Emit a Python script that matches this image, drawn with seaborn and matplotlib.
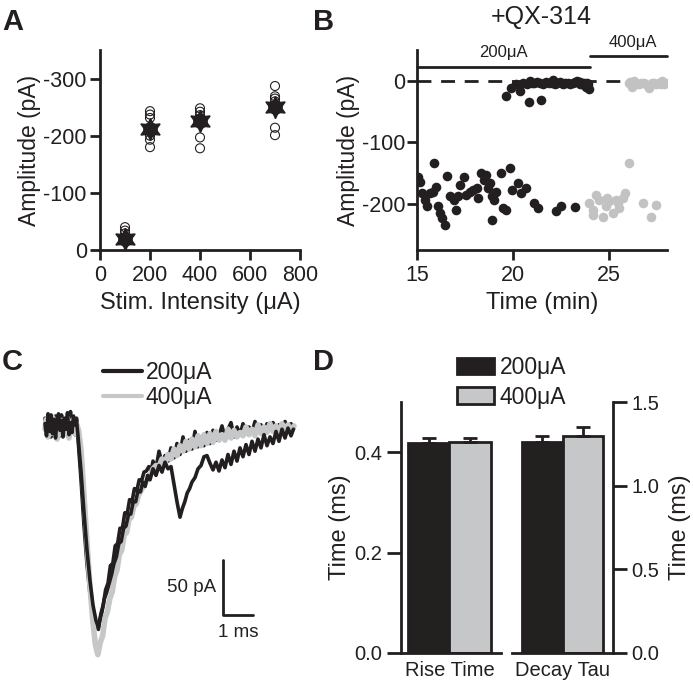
import numpy as np
import pandas as pd
import matplotlib
matplotlib.use("Agg")
import matplotlib.pyplot as plt
import seaborn as sns
from matplotlib.lines import Line2D
from matplotlib.patches import Patch

# ---- data ----
# A: amplitude vs stimulus intensity
stim_levels = [100, 200, 400, 700]
amp_mean = [-20, -212, -225, -250]
amp_sem = [9, 9, 9, 9]
amp_cells = {
    100: [-40, -34, -29, -22],
    200: [-243, -237, -231, -200, -193, -180],
    400: [-248, -242, -236, -230, -197, -178],
    700: [-287, -269, -265, -260, -214, -201],
}

# B: amplitude over time with QX-314
t_200_fail = [19.65, 19.9, 20.16, 20.34, 20.5, 20.7, 20.82, 20.85, 21.0, 21.1,
              21.25, 21.37, 21.46, 21.55, 21.7, 21.85, 22.0, 22.06, 22.15, 22.3,
              22.45, 22.58, 22.7, 22.84, 22.95, 23.1, 23.2, 23.3, 23.45, 23.5,
              23.6, 23.7, 23.8, 23.85, 23.9, 23.96]
a_200_fail = [-25, -12, -6, -17, -3, -5, -34, -1, -4, -3,
              -2, -4, -31, -5, -2, -4, -3, 2, -5, -4,
              -2, -5, -3, -3, -6, -4, -2, 0, -5, -2,
              -6, -4, -10, -3, -6, -13]
t_200_resp = [15.07, 15.15, 15.24, 15.4, 15.5, 15.67, 15.85, 15.88, 16.0, 16.1,
              16.2, 16.28, 16.45, 16.54, 16.7, 16.9, 17.05, 17.14, 17.23, 17.43,
              17.54, 17.78, 17.92, 18.1, 18.18, 18.35, 18.47, 18.6, 18.7, 18.78,
              18.92, 18.92, 19.0, 19.13, 19.35, 19.47, 19.65, 19.82, 19.96, 20.25,
              20.42, 20.68, 21.1, 21.29, 22.24, 22.5, 23.2]
a_200_resp = [-156, -164, -183, -193, -203, -183, -180, -134, -172, -204,
              -215, -223, -234, -155, -188, -193, -210, -188, -169, -156,
              -185, -180, -177, -175, -191, -150, -161, -153, -175, -166,
              -188, -226, -193, -180, -150, -207, -210, -142, -177, -166,
              -183, -175, -199, -207, -212, -204, -205]
t_400_fail = [26.04, 26.1, 26.2, 26.3, 26.4, 26.55, 26.65, 26.8, 26.95, 27.07,
              27.2, 27.33, 27.45, 27.6, 27.7, 27.76, 27.85, 27.95]
a_400_fail = [-4, -2, -10, -1, -5, -6, -3, -4, -7, -12,
              -3, -4, -6, -3, -5, 0, -6, -3]
t_400_resp = [23.96, 24.14, 24.14, 24.3, 24.48, 24.65, 24.83, 24.9, 25.0, 25.17,
              25.35, 25.43, 25.52, 25.69, 25.83, 26.04, 26.73, 27.16, 27.42]
a_400_resp = [-199, -210, -218, -185, -193, -221, -204, -191, -196, -215,
              -193, -198, -207, -191, -183, -134, -199, -221, -202]

# C: example traces (time in ms, current in pA)
t_200_a = [0.50, 0.55, 0.60, 0.65, 0.70, 0.75, 0.80, 0.85, 0.90, 0.95, 1.00, 1.05, 1.10, 1.15,
           1.20, 1.25, 1.30, 1.35, 1.40, 1.45, 1.50, 1.55,
           1.60, 1.70, 1.80, 1.90, 2.00, 2.10, 2.20, 2.28,
           2.34, 2.40, 2.48, 2.56, 2.64, 2.72, 2.80, 2.88, 2.96, 3.04, 3.12, 3.20, 3.28, 3.36,
           3.44, 3.52, 3.60, 3.68, 3.76, 3.84, 3.92, 4.00,
           4.10, 4.20, 4.30, 4.40, 4.50, 4.60, 4.70,
           4.80, 4.90, 5.00,
           5.08, 5.16, 5.24, 5.32, 5.40,
           5.5, 5.6, 5.7, 5.8, 5.9, 6.0, 6.1, 6.2, 6.3, 6.4, 6.5, 6.6, 6.7, 6.8, 6.9, 7.0,
           7.1, 7.2, 7.3, 7.4, 7.5, 7.6, 7.7, 7.8, 7.9, 8.0, 8.1, 8.2, 8.3, 8.4, 8.5, 8.6, 8.7,
           8.78]
i_200_a = [3, -8, 9, -4, 11, -6, 7, -10, 5, 12, -3, 6, -9, 8,
           -2, 13, -7, 4, -5, 10, 2, 6,
           -8, -40, -78, -112, -140, -162, -176, -182,
           -174, -168, -156, -150, -142, -134, -124, -118, -106, -104, -92, -90, -80, -79,
           -68, -68, -58, -59, -50, -54, -44, -48,
           -38, -44, -35, -41, -32, -38, -36,
           -52, -68, -82,
           -74, -68, -60, -56, -50,
           -46, -38, -35, -27, -26, -33, -39, -32, -40, -30, -37, -25, -34, -22, -31, -19,
           -27, -16, -25, -13, -22, -11, -19, -7, -17, -9, -15, -4, -13, -2, -10, -1, -8,
           -2]
t_200_b = [0.50, 0.55, 0.60, 0.65, 0.70, 0.75, 0.80, 0.85, 0.90, 0.95, 1.00, 1.05, 1.10, 1.15,
           1.20, 1.25, 1.30, 1.35, 1.40, 1.45, 1.50, 1.55,
           1.60, 1.70, 1.80, 1.90, 2.00, 2.10, 2.20, 2.28,
           2.36, 2.44, 2.52, 2.60, 2.68, 2.76, 2.84, 2.92, 3.00, 3.08, 3.16, 3.24, 3.32, 3.40,
           3.48, 3.56, 3.64, 3.72, 3.80, 3.88, 3.96, 4.04,
           4.1, 4.2, 4.3, 4.4, 4.5, 4.6, 4.7, 4.8, 4.9, 5.0, 5.1, 5.2, 5.3, 5.4, 5.5, 5.6,
           5.7, 5.8, 5.9, 6.0, 6.1, 6.2, 6.3, 6.4, 6.5, 6.6, 6.7, 6.8, 6.9, 7.0, 7.1, 7.2,
           7.3, 7.4, 7.5, 7.6, 7.7, 7.8, 7.9, 8.0, 8.1, 8.2, 8.3, 8.4, 8.5, 8.6, 8.7, 8.8]
i_200_b = [8, -4, 12, 0, -9, 6, -2, 10, -6, 3, -8, 11, -1, 7,
           -5, 9, -3, 14, -2, 5, -7, 8,
           -10, -48, -90, -125, -152, -170, -180, -184,
           -170, -162, -148, -142, -126, -124, -108, -106, -92, -92, -78, -79, -66, -68,
           -56, -58, -48, -49, -41, -40, -36, -40,
           -31, -38, -22, -33, -26, -31, -19, -28, -15, -25, -9, -22, -12, -20, -4, -18,
           -9, -17, -5, -15, -3, -12, -8, 1, -10, -2, 4, -9, 0, -7, 3, -6,
           0, -5, 5, -4, 2, -6, 3, -3, 4, -4, 2, -3, 5, -2, 3, -1]
t_400 = [0.50, 0.55, 0.60, 0.65, 0.70, 0.75, 0.80, 0.85, 0.90, 0.95, 1.00, 1.05, 1.10, 1.15,
         1.20, 1.25, 1.30, 1.35, 1.40, 1.45, 1.50, 1.55, 1.62,
         1.70, 1.80, 1.90, 2.00, 2.10, 2.18, 2.26,
         2.34, 2.42, 2.50, 2.58, 2.66, 2.74, 2.82, 2.90, 2.98, 3.06, 3.14, 3.22, 3.30, 3.38,
         3.46, 3.54, 3.62, 3.70, 3.78, 3.86, 3.94, 4.02,
         4.1, 4.2, 4.3, 4.4, 4.5, 4.6, 4.7, 4.8, 4.9, 5.0, 5.1, 5.2, 5.3, 5.4, 5.5, 5.6,
         5.7, 5.8, 5.9, 6.0, 6.1, 6.2, 6.3, 6.4, 6.5, 6.6, 6.7, 6.8, 6.9, 7.0, 7.1, 7.2,
         7.3, 7.4, 7.5, 7.6, 7.7, 7.8, 7.9, 8.0, 8.1, 8.2, 8.3, 8.4, 8.5, 8.6, 8.7, 8.8]
i_400 = [-2, 7, -9, 3, -6, 9, -4, 5, -11, 1, -5, 6, -8, 4,
         -3, 8, -10, 2, -4, 7, -6, 3, -3,
         -20, -62, -105, -145, -178, -198, -207,
         -196, -190, -174, -168, -156, -150, -136, -130, -116, -112, -98, -96, -84, -82,
         -72, -70, -62, -58, -54, -50, -47, -43,
         -38, -35, -36, -29, -33, -25, -29, -20, -26, -17, -22, -13, -20, -11, -18, -8,
         -17, -7, -15, -6, -14, -4, -12, -7, -12, -2, -10, -3, -9, -5, -8, 0,
         -7, -2, -8, 2, -6, 0, -5, 3, -4, 1, -6, 3, -3, 2, -5, 1]

# D: kinetics
stims = ["200μA", "400μA"]
rise_mean = [0.419, 0.421]
rise_err = [0.009, 0.007]
decay_mean = [1.262, 1.298]
decay_err = [0.036, 0.053]

BLACK = "#231f20"
GRAY = "#c6c7c9"

# ---- style ----
sns.set_style("ticks")
plt.rcParams["font.family"] = ["Liberation Sans", "DejaVu Sans"]
plt.rcParams["axes.unicode_minus"] = False
plt.rcParams["axes.linewidth"] = 2
plt.rcParams["xtick.major.width"] = 2
plt.rcParams["ytick.major.width"] = 2
plt.rcParams["xtick.major.size"] = 7.5
plt.rcParams["ytick.major.size"] = 7.5
plt.rcParams["text.color"] = BLACK
plt.rcParams["axes.labelcolor"] = BLACK
plt.rcParams["xtick.color"] = BLACK
plt.rcParams["ytick.color"] = BLACK
plt.rcParams["axes.edgecolor"] = BLACK

W, H = 693, 691
fig = plt.figure(figsize=(W / 100, H / 100), dpi=100)


def px_axes(x0, y0, x1, y1):
    return fig.add_axes([x0 / W, 1 - y1 / H, (x1 - x0) / W, (y1 - y0) / H])


# ---- A ----
ax_a = px_axes(100, 50, 300, 250)
df_a = pd.DataFrame([(k, v) for k, vals in amp_cells.items() for v in vals],
                    columns=["stim", "amp"])
sns.scatterplot(data=df_a, x="stim", y="amp", marker="o", s=42,
                facecolors="none", edgecolor=BLACK, linewidth=0.8, ax=ax_a)
ax_a.errorbar(stim_levels, amp_mean, yerr=amp_sem, marker=(6, 1, 0), ms=16,
              color=BLACK, ls="none", elinewidth=1.5, zorder=3)
ax_a.plot(stim_levels, amp_mean, marker="h", ms=11, color=BLACK, ls="none", zorder=4)
ax_a.set_xlim(0, 800)
ax_a.set_ylim(0, -350)
ax_a.set_xticks([0, 200, 400, 600, 800])
ax_a.set_yticks([0, -100, -200, -300])
ax_a.tick_params(labelsize=15.5)
ax_a.tick_params(axis="y", pad=2)
ax_a.set_xlabel("Stim. Intensity (μA)", fontsize=17)
ax_a.set_ylabel("Amplitude (pA)", fontsize=16.5, labelpad=2)
sns.despine(ax=ax_a)

# ---- B ----
ax_b = px_axes(417, 50, 667, 250)
ax_b.plot([15, 28], [0, 0], color=BLACK, lw=2, dashes=(5, 3.5), zorder=1)
sns.scatterplot(x=t_200_resp + t_200_fail, y=a_200_resp + a_200_fail,
                color=BLACK, s=48, linewidth=0, ax=ax_b, zorder=3)
sns.scatterplot(x=t_400_resp + t_400_fail, y=a_400_resp + a_400_fail,
                color="#c2c2c2", s=48, linewidth=0, ax=ax_b, zorder=3)
ax_b.plot([15, 24], [23, 23], color=BLACK, lw=2, clip_on=False)
ax_b.plot([24, 28], [40, 40], color=BLACK, lw=2, clip_on=False)
ax_b.text(19.5, 46, "200μA", ha="center", va="center", fontsize=12)
ax_b.text(26.2, 63, "400μA", ha="center", va="center", fontsize=12)
ax_b.set_xlim(15, 28)
ax_b.set_ylim(-275, 50)
ax_b.set_xticks([15, 20, 25])
ax_b.set_yticks([0, -100, -200])
ax_b.tick_params(labelsize=15.5)
ax_b.tick_params(axis="y", pad=1)
ax_b.set_xlabel("Time (min)", fontsize=17)
ax_b.set_ylabel("Amplitude (pA)", fontsize=16.5, labelpad=1)
sns.despine(ax=ax_b)
fig.text(541 / W, 1 - 17 / H, "+QX-314", ha="center", va="center", fontsize=18)

# ---- C ----
ax_c = px_axes(30, 350, 300, 670)
sns.lineplot(x=t_200_b, y=i_200_b, color=BLACK, lw=2.6, estimator=None, sort=False, ax=ax_c)
sns.lineplot(x=t_400, y=i_400, color=GRAY, lw=4, estimator=None, sort=False, ax=ax_c)
sns.lineplot(x=t_200_a, y=i_200_a, color=BLACK, lw=2.6, estimator=None, sort=False, ax=ax_c)
ax_c.set_xlim(0, 9)
ax_c.set_ylim(70 - 320 / 1.1, 70)
ax_c.axis("off")
# scale bar
ax_c.plot([6.43, 6.43, 7.43], [-121, -171, -171], color=BLACK, lw=2, clip_on=False)
ax_c.text(6.22, -146, "50 pA", ha="right", va="center", fontsize=13.5)
ax_c.text(6.93, -187, "1 ms", ha="center", va="center", fontsize=13.5)
ax_c.legend(handles=[Line2D([], [], color=BLACK, lw=3), Line2D([], [], color=GRAY, lw=3)],
            labels=stims, loc="upper left", bbox_to_anchor=(103 / W, 1 - 361 / H),
            bbox_transform=fig.transFigure, frameon=False, fontsize=16.5,
            handlelength=1.7, handletextpad=0.15, borderpad=0, borderaxespad=0,
            labelspacing=0.1)

# ---- D ----
ax_d1 = px_axes(401, 402, 501, 653)
ax_d2 = px_axes(512, 402, 613, 653)
for ax, name, means, errs in [(ax_d1, "Rise Time", rise_mean, rise_err),
                              (ax_d2, "Decay Tau", decay_mean, decay_err)]:
    df = pd.DataFrame({"measure": [name] * 2, "stim": stims, "value": means})
    sns.barplot(data=df, x="measure", y="value", hue="stim", palette=[BLACK, GRAY],
                edgecolor=BLACK, linewidth=2, errorbar=None, legend=False, width=0.8, ax=ax)
    for patch, err in zip(ax.patches, errs):
        xc = patch.get_x() + patch.get_width() / 2
        ax.errorbar(xc, patch.get_height(), yerr=[[0], [err]], color=BLACK,
                    elinewidth=2, capsize=5, capthick=2, zorder=4)
    ax.set_xlabel("")
    ax.tick_params(axis="x", length=0, labelsize=14.5, pad=6)

ax_d1.set_ylabel("Time (ms)", fontsize=17, labelpad=2)
ax_d1.set_xlim(-0.47, 0.5)
ax_d1.set_ylim(0, 0.5)
ax_d1.set_yticks([0.0, 0.2, 0.4])
ax_d1.set_yticklabels(["0.0", "0.2", "0.4"])
sns.despine(ax=ax_d1)
ax_d1.tick_params(axis="y", labelsize=14.5, length=10)

ax_d2.set_xlim(-0.5, 0.5)
ax_d2.set_ylim(0, 1.5)
ax_d2.set_yticks([0.0, 0.5, 1.0, 1.5])
ax_d2.set_yticklabels(["0.0", "0.5", "1.0", "1.5"])
sns.despine(ax=ax_d2, left=True, right=False)
ax_d2.yaxis.set_label_position("right")
ax_d2.set_ylabel("Time (ms)", fontsize=17, labelpad=7)
ax_d2.tick_params(axis="y", which="both", left=False, labelleft=False, right=True,
                  labelright=True, labelsize=14.5, length=10, width=2, direction="out")

fig.legend(handles=[Patch(fc=BLACK, ec=BLACK, lw=2), Patch(fc=GRAY, ec=BLACK, lw=2)],
           labels=stims, loc="upper left", bbox_to_anchor=(457 / W, 1 - 356 / H),
           frameon=False, fontsize=16.5, handlelength=1.6, handleheight=0.75,
           handletextpad=0.25, borderpad=0, borderaxespad=0, labelspacing=0.3)

# ---- panel letters ----
for letter, x, y in [("A", 2, 8), ("B", 313, 8), ("C", 2, 348), ("D", 313, 348)]:
    fig.text(x / W, 1 - y / H, letter, fontsize=21, fontweight="bold", ha="left", va="top")

fig.savefig("out.png", dpi=100)
